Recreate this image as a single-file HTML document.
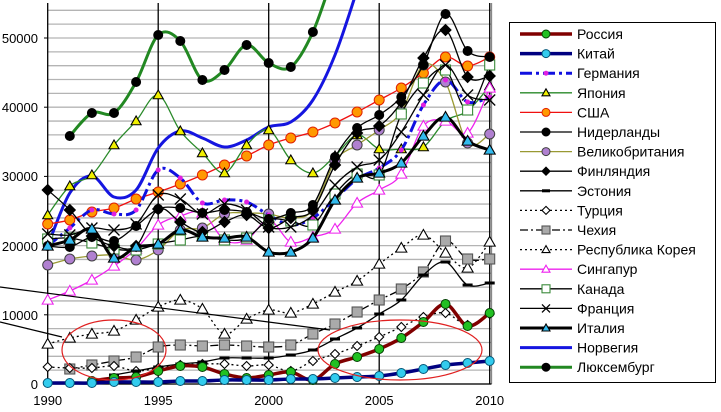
<!DOCTYPE html>
<html><head><meta charset="utf-8"><style>
html,body{margin:0;padding:0;background:#fff;width:721px;height:412px;overflow:hidden}
svg{display:block;font-family:"Liberation Sans",Arial,sans-serif}
</style></head><body>
<svg id="s" width="721" height="412" xmlns="http://www.w3.org/2000/svg">
<rect width="721" height="412" fill="#fff"/>
<g id="grid"></g>
<g id="series"></g>
<g font-size="13" fill="#000" text-anchor="end">
<text x="38" y="43">50000</text><text x="38" y="112">40000</text><text x="38" y="181">30000</text>
<text x="38" y="251">20000</text><text x="38" y="320">10000</text><text x="38" y="389">0</text>
</g>
<g font-size="13" fill="#000" text-anchor="middle">
<text x="47.7" y="405">1990</text><text x="158.2" y="405">1995</text><text x="268.7" y="405">2000</text><text x="379.2" y="405">2005</text><text x="489.7" y="405">2010</text>
</g>
<rect x="509.5" y="22.5" width="206" height="360" fill="#fff" stroke="#000" stroke-width="1"/>
<g id="legend" font-size="14"></g>
</svg>
<script>
const NS="http://www.w3.org/2000/svg";
function el(t,a,p){const e=document.createElementNS(NS,t);for(const k in a)e.setAttribute(k,a[k]);p.appendChild(e);return e;}
const G=document.getElementById('grid'),S=document.getElementById('series'),L=document.getElementById('legend');
const X=i=>47.7+22.1*i;
for(let v=0;v<=54000;v+=2000){const y=384-v*0.00692;el('line',{x1:47.7,x2:491.5,y1:y,y2:y,stroke:'#b4b4b4','stroke-width':1.3},G);}
el('line',{x1:491.5,x2:491.5,y1:3,y2:384,stroke:'#888','stroke-width':1.3},G);
for(let i=0;i<=20;i+=5){el('line',{x1:X(i),x2:X(i),y1:3,y2:384,stroke:'#000','stroke-width':1.3},G);}
el('line',{x1:44,x2:491.5,y1:384,y2:384,stroke:'#000','stroke-width':1.3},G);
for(let v=0;v<=50000;v+=10000){const y=384-v*0.00692;el('line',{x1:44,x2:47.7,y1:y,y2:y,stroke:'#000'},G);}
function path(pts){let d='M'+pts[0][0]+','+pts[0][1];for(let i=0;i<pts.length-1;i++){const p0=pts[i-1]||pts[i],p1=pts[i],p2=pts[i+1],p3=pts[i+2]||p2;const t=6;
d+=` C${p1[0]+(p2[0]-p0[0])/t},${p1[1]+(p2[1]-p0[1])/t} ${p2[0]-(p3[0]-p1[0])/t},${p2[1]-(p3[1]-p1[1])/t} ${p2[0]},${p2[1]}`;}return d;}
function marker(m,x,y,g){
 if(!m)return;const [type,fill,stroke,r]=m;
 if(type=='c')el('circle',{cx:x,cy:y,r:r,fill:fill,stroke:stroke,'stroke-width':1},g);
 else if(type=='t')el('polygon',{points:`${x},${y-r} ${x-r},${y+r*0.75} ${x+r},${y+r*0.75}`,fill:fill,stroke:stroke,'stroke-width':1.1},g);
 else if(type=='s')el('rect',{x:x-r,y:y-r,width:2*r,height:2*r,fill:fill,stroke:stroke,'stroke-width':1.1},g);
 else if(type=='d')el('polygon',{points:`${x},${y-r} ${x+r},${y} ${x},${y+r} ${x-r},${y}`,fill:fill,stroke:stroke,'stroke-width':1.1},g);
 else if(type=='x'){el('path',{d:`M${x-r},${y-r}L${x+r},${y+r}M${x-r},${y+r}L${x+r},${y-r}`,stroke:stroke,'stroke-width':1.3},g);}
 else if(type=='b')el('rect',{x:x-r,y:y-1.5,width:2*r,height:3,fill:stroke},g);
 else if(type=='st'){el('circle',{cx:x,cy:y,r:r,fill:fill},g);}
}
const data=[
['Россия','#800000',3.5,'',['c','#22c022','#004000',4.5],{2:381,3:378,4:377,5:371,6:366,7:367,8:374,9:378,10:375,11:372,12:380,13:364,14:357,15:349,16:338,17:322,18:304,19:326,20:313}],
['Китай','#000080',3.5,'',['c','#33ccee','#005577',4.5],[383,383,383,382,382,382,381,381,380,380,380,379,379,378,377,376,373,369,365,363,361]],
['Германия','#1010e0',3,'12 4 3 4',['st','#e020e0','',2.5],[246,228,210,214,210,170,178,203,200,202,215,225,218,199,179,168,150,105,80,102,97]],
['Япония','#2a8a2a',1.3,'',['t','#f0f000','#000',5],[215,186,175,145,121,95,131,153,173,145,130,160,173,156,135,149,149,147,121,111,86]],
['США','#f01010',1.3,'',['c','#ff9900','#e02000',5],[224,220,212,208,199,192,184,175,165,156,145,138,132,123,112,100,88,73,57,66,57]],
['Нидерланды','#000',1.3,'',['c','#000','#000',4.5],[246,247,237,241,226,209,208,213,210,212,219,213,205,157,128,115,97,65,14,51,57]],
['Великобритания','#999933',1.3,'',['c','#b080d0','#404040',5],[265,259,256,255,260,250,230,228,214,213,214,218,210,161,145,130,112,65,82,143,134]],
['Финляндия','#000',1.3,'',['d','#000','#000',5.5],[190,210,236,246,246,209,222,232,222,215,228,218,210,165,133,126,102,58,30,77,76]],
['Эстония','#000',1.3,'',['b','#000','#000',5],{3:375,4:371,5:367,6:364,7:362,8:358,9:358,10:358,11:355,12:350,13:339,14:328,15:314,16:300,17:275,18:262,19:285,20:283}],
['Турция','#000',1.3,'2 3',['d','#fff','#000',4.5],[367,368,368,366,371,368,365,364,364,366,365,371,361,354,346,337,327,317,313,325,314]],
['Чехия','#000',1.3,'8 3 2 3',['s','#aaa','#555',5],{1:369,2:365,3:361,4:357,5:347,6:345,7:346,8:345,9:346,10:347,11:345,12:334,13:324,14:312,15:300,16:289,17:272,18:241,19:259,20:259}],
['Республика Корея','#000',1.3,'2 3',['t','#fff','#000',5.5],[344,338,334,331,320,307,300,309,334,319,310,313,304,292,281,264,248,235,253,268,242]],
['Сингапур','#ee22ee',1.3,'',['t','#fff','#ee22ee',5.5],[300,291,280,266,249,225,216,213,240,240,220,242,237,229,203,190,174,126,121,133,88]],
['Канада','#000',1.3,'',['s','#fff','#3a8a3a',5],[239,238,243,249,250,244,240,236,240,238,220,221,225,194,174,175,114,83,70,110,65]],
['Франция','#000',1.3,'',['x','','#000',5.5],[234,235,228,230,224,195,199,214,204,210,227,227,215,185,167,160,132,95,65,95,100]],
['Италия','#000',3,'',['t','#33bbee','#000',5.5],[246,240,229,258,247,244,230,237,238,237,252,252,238,200,178,173,163,136,117,141,150]],
['Норвегия','#1515e0',3,'',null,{0:246,1:193,2:176,3:197,4:190,5:148,6:131,7:138,8:147,9:140,10:127,11:122,12:100,13:55,14:-10,15:-80}],
['Люксембург','#228822',3,'',['c','#000','#000',4.5],{1:136,2:113,3:113,4:82,5:35,6:41,7:80,8:70,9:45,10:63,11:67,12:32,13:-30,14:-90}]
];
const order=[17,16,4,3,6,2,12,13,14,7,5,15,11,10,9,8,0,1];
for(const idx of order){
 const [name,col,w,dash,m,vals]=data[idx];
 let pts=[];
 if(Array.isArray(vals))vals.forEach((v,i)=>pts.push([X(i),v]));else for(const k in vals)pts.push([X(+k),vals[k]]);
 const g=el('g',{},S);
 const a={d:path(pts),fill:'none',stroke:col,'stroke-width':w,'stroke-linejoin':'round'};if(dash)a['stroke-dasharray']=dash;
 el('path',a,g);
 pts.forEach(p=>{if(p[1]>0&&p[1]<390)marker(m,p[0],p[1],g);});
}
el('ellipse',{cx:114,cy:350,rx:52,ry:30,fill:'none',stroke:'#e02020','stroke-width':1.2},S);
el('ellipse',{cx:400,cy:350,rx:82,ry:30,fill:'none',stroke:'#e02020','stroke-width':1.2},S);
el('line',{x1:0,y1:287,x2:330,y2:330,stroke:'#000','stroke-width':1.2},S);
el('line',{x1:0,y1:322,x2:62,y2:337,stroke:'#000','stroke-width':1.2},S);
data.forEach((d,i)=>{
 const y=34+i*19.6;const [name,col,w,dash,m]=d;
 const a={x1:520,x2:572,y1:y,y2:y,stroke:col,'stroke-width':w};if(dash)a['stroke-dasharray']=dash;
 el('line',a,L);
 if(m){const mm=m.slice();mm[3]=Math.min(mm[3],4);marker(mm,546,y,L);}
 const t=el('text',{x:577,y:y+5},L);t.textContent=name;
});
</script>
</body></html>
